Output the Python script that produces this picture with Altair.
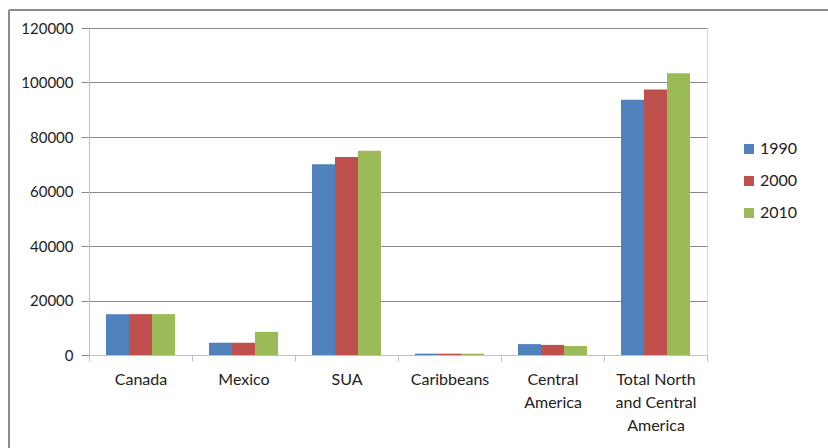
import altair as alt
import pandas as pd

regions = ["Canada", "Mexico", "SUA", "Caribbeans", "Central America",
           "Total North and Central America"]
region_labels = [["Canada"], ["Mexico"], ["SUA"], ["Caribbeans"],
                 ["Central", "America"], ["Total North", "and Central", "America"]]
years = ["1990", "2000", "2010"]
values_1990 = [15000, 4500, 70000, 500, 4000, 93700]
values_2000 = [15000, 4500, 72700, 500, 3700, 97400]
values_2010 = [15000, 8500, 75000, 500, 3300, 103400]
colors = ["#4F81BD", "#C0504D", "#9BBB59"]

rows = []
for year, vals in zip(years, [values_1990, values_2000, values_2010]):
    for r, v in zip(regions, vals):
        rows.append({"Region": r, "Year": year, "Value": v})
df = pd.DataFrame(rows)

# multi-line category labels via labelExpr lookup
label_map = {r: lab for r, lab in zip(regions, region_labels)}
label_expr = "{" + ",".join(
    f"'{r}': [{','.join(repr(s) for s in lab)}]" for r, lab in label_map.items()
) + "}[datum.value]"

FONT = "Lato"
GRID = "#8a8a8a"
AXIS = "#c0c0c0"
FRAME = "#8c8c8c"

bars = alt.Chart(df).mark_bar().encode(
    x=alt.X("Region:N", sort=regions, title=None,
            scale=alt.Scale(paddingInner=0, paddingOuter=0),
            axis=alt.Axis(labelAngle=0, labelExpr=label_expr, tickBand="extent",
                          tickSize=6, tickColor=AXIS, domainColor=AXIS,
                          labelFont=FONT, labelFontSize=16, labelColor="#222",
                          labelPadding=10, labelLineHeight=23, grid=False)),
    xOffset=alt.XOffset("Year:N", scale=alt.Scale(paddingInner=0, paddingOuter=0.74)),
    y=alt.Y("Value:Q", title=None,
            scale=alt.Scale(domain=[0, 120000], nice=False),
            axis=alt.Axis(values=[0, 20000, 40000, 60000, 80000, 100000, 120000],
                          format="d", tickSize=8, tickColor=GRID, domainColor=AXIS,
                          gridColor=GRID, gridWidth=1, labelFont=FONT,
                          labelFontSize=15, labelColor="#222", labelPadding=8)),
    color=alt.Color("Year:N", scale=alt.Scale(domain=years, range=colors),
                    legend=alt.Legend(title=None, orient="none", legendX=652,
                                      legendY=113, symbolType="square",
                                      symbolSize=100, symbolStrokeWidth=0,
                                      labelFont=FONT, labelFontSize=16,
                                      labelColor="#222", rowPadding=16,
                                      labelOffset=3)),
)

# outer frame: top and left edges of the chart border
one = pd.DataFrame({"k": [0]})
frame_top = alt.Chart(one).mark_rule(stroke=FRAME, strokeWidth=2).encode(
    x=alt.value(-80), x2=alt.value(760), y=alt.value(-18))
frame_left = alt.Chart(one).mark_rule(stroke=FRAME, strokeWidth=2).encode(
    x=alt.value(-80), y=alt.value(-18), y2=alt.value(440))

chart = alt.layer(frame_top, frame_left, bars).properties(
    width=618, height=327,
    autosize=alt.AutoSizeParams(type="none"),
    padding={"left": 89, "top": 28, "right": 121, "bottom": 93},
).configure_view(stroke=None).configure(background="white")

chart.save("out.html", embed_options={"renderer": "svg", "actions": False})
